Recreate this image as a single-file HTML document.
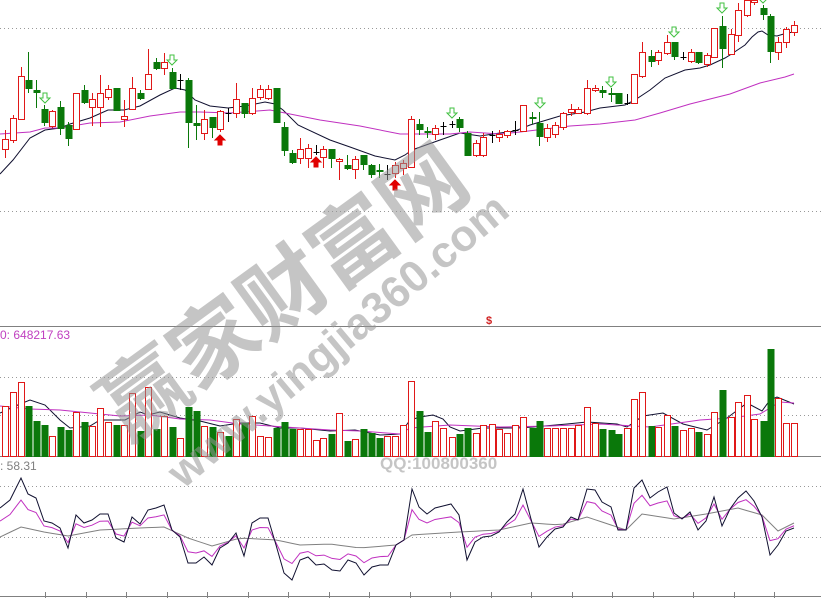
<!DOCTYPE html>
<html><head><meta charset="utf-8"><style>
html,body{margin:0;padding:0;background:#fff;width:821px;height:598px;overflow:hidden}
svg{position:absolute;left:0;top:0}
.wm{position:absolute;font-family:"Liberation Sans","Noto Sans CJK SC",sans-serif;font-weight:bold;color:rgba(150,150,150,0.55);white-space:nowrap;transform-origin:0 0;line-height:1}
</style></head><body>
<svg id="s" width="821" height="598" xmlns="http://www.w3.org/2000/svg">
<g stroke="#999" stroke-dasharray="1,3" stroke-width="1">
<line x1="0" y1="28.5" x2="821" y2="28.5"/><line x1="0" y1="211.5" x2="821" y2="211.5"/>
<line x1="0" y1="377.5" x2="821" y2="377.5"/><line x1="0" y1="415.5" x2="821" y2="415.5"/>
<line x1="0" y1="486.5" x2="821" y2="486.5"/><line x1="0" y1="537.5" x2="821" y2="537.5"/>
</g>
<g stroke="#808080" stroke-width="1">
<line x1="0" y1="326.5" x2="821" y2="326.5"/><line x1="0" y1="456.5" x2="821" y2="456.5"/>
<line x1="0" y1="596.5" x2="821" y2="596.5"/>
</g>
<g id="ticks" stroke="#808080"></g>
<g id="lines" fill="none"></g>
<g id="vol"></g>
<g id="c"></g>
<text x="0" y="339" font-family="Liberation Sans,sans-serif" font-size="12" fill="#c040c0">0: 648217.63</text>
<text x="0" y="470" font-family="Liberation Sans,sans-serif" font-size="12" fill="#808080">: 58.31</text>
<text x="486" y="324" font-family="Liberation Sans,sans-serif" font-size="11" font-weight="bold" fill="#d02020">$</text>
</svg>
<div class="wm" style="left:85px;top:385px;font-size:86px;transform:rotate(-36deg)">赢家财富网</div>
<div class="wm" style="left:160px;top:462px;font-size:44px;transform:rotate(-40deg)">www.yingjia360.com</div>
<div class="wm" style="left:380px;top:455px;font-size:17px;transform:none">QQ:100800360</div>
<script>
var NS="http://www.w3.org/2000/svg";
function el(p,t,a){var e=document.createElementNS(NS,t);for(var k in a)e.setAttribute(k,a[k]);p.appendChild(e);return e;}
var C=[[5,139,149,130,158,'r'],[13,118,140,115,143,'r'],[21,76,119,67,120,'r'],[28,80,88,52,93,'g'],[36,90,92,80,108,'g'],[44,109,122,105,126,'g'],[52,111,126,110,128,'r'],[60,107,128,101,135,'g'],[68,125,138,122,146,'g'],[76,93,129,93,130,'r'],[84,90,102,85,104,'g'],[92,99,107,93,126,'r'],[100,93,107,75,127,'r'],[108,89,97,85,100,'r'],[116,88,110,88,110,'g'],[124,116,119,100,127,'r'],[132,88,109,77,110,'r'],[140,93,98,90,100,'g'],[148,74,89,49,90,'r'],[156,62,68,58,70,'g'],[164,62,68,53,75,'r'],[172,72,88,68,88,'g'],[180,80,80,74,90,'k'],[188,80,122,78,148,'g'],[196,123,125,105,140,'g'],[204,119,133,110,140,'r'],[212,117,127,117,138,'g'],[220,111,129,110,132,'r'],[228,113,113,108,122,'k'],[236,99,113,83,118,'r'],[244,103,113,103,118,'g'],[252,98,113,88,115,'r'],[260,89,97,85,100,'r'],[268,89,98,85,100,'r'],[276,88,122,88,122,'g'],[284,127,150,122,156,'g'],[292,153,162,150,164,'g'],[300,149,158,138,164,'r'],[308,148,158,144,168,'r'],[316,152,152,145,155,'k'],[323,149,157,146,168,'r'],[331,149,158,149,168,'g'],[339,159,161,158,180,'r'],[347,165,168,155,170,'g'],[355,159,169,156,179,'r'],[363,155,164,155,170,'g'],[371,165,174,164,178,'g'],[379,170,171,164,178,'g'],[387,174,174,165,180,'k'],[395,165,173,162,178,'r'],[403,163,168,160,175,'r'],[411,119,167,116,167,'r'],[419,124,129,119,135,'g'],[427,131,132,127,138,'g'],[435,128,134,125,140,'r'],[443,126,126,122,135,'k'],[452,124,124,121,128,'k'],[459,119,127,117,132,'g'],[467,133,155,131,155,'g'],[476,143,155,140,157,'r'],[483,137,155,133,157,'r'],[492,135,135,131,143,'k'],[499,134,137,130,142,'r'],[507,131,135,130,138,'r'],[515,130,130,121,135,'k'],[523,105,131,105,131,'r'],[532,117,118,112,124,'g'],[539,123,136,112,146,'g'],[547,128,137,124,142,'r'],[555,125,134,122,138,'r'],[563,113,127,112,130,'r'],[571,109,112,104,116,'r'],[578,109,113,107,114,'r'],[587,88,113,80,115,'r'],[595,88,90,85,92,'r'],[602,90,92,86,98,'g'],[611,93,94,88,102,'g'],[618,93,103,93,103,'g'],[627,103,103,94,105,'k'],[634,74,103,74,103,'r'],[642,52,76,42,78,'r'],[651,56,61,50,67,'g'],[658,52,60,50,65,'r'],[667,42,53,35,55,'r'],[674,42,56,42,60,'g'],[683,57,57,52,60,'k'],[691,52,61,49,63,'r'],[698,52,62,52,64,'g'],[707,55,64,53,67,'r'],[714,28,57,28,58,'r'],[722,26,48,16,68,'g'],[731,34,54,29,55,'r'],[738,10,35,3,42,'r'],[747,0,15,0,17,'r'],[754,0,2,0,5,'r'],[763,8,14,5,20,'g'],[770,16,51,14,63,'g'],[778,42,52,37,60,'r'],[786,29,42,27,48,'r'],[794,25,32,21,36,'r']];
var V=[406,392,382,406,421,425,436,427,430,412,422,426,408,422,425,425,393,431,387,429,416,427,438,407,411,426,427,432,436,419,423,416,436,437,428,422,429,429,429,440,438,434,413,441,439,429,433,438,436,436,425,381,411,432,421,428,437,434,428,433,425,424,429,433,425,417,428,421,428,428,428,428,425,407,423,429,430,434,428,399,392,426,427,415,426,430,428,432,434,412,390,417,402,395,419,421,349,398,423,423];
var R="#e01818",G="#0a780a";
var c=document.getElementById('c'),vg=document.getElementById('vol'),lg=document.getElementById('lines'),tg=document.getElementById('ticks');
C.forEach(function(d,i){var x=d[0],col=d[5]=='r'?R:(d[5]=='g'?G:'#000');
 el(c,'line',{x1:x+.5,y1:d[3],x2:x+.5,y2:d[4],stroke:col});
 var h=Math.max(d[2]-d[1],1);
 if(d[5]=='r')el(c,'rect',{x:x-2.5,y:d[1]+.5,width:6,height:h,fill:'#fff',stroke:R});
 else if(d[5]=='g')el(c,'rect',{x:x-2.5,y:d[1],width:7,height:h+1,fill:G});
 else el(c,'line',{x1:x-2.5,y1:d[1]+.5,x2:x+3.5,y2:d[1]+.5,stroke:'#000'});
 var v=V[i],vc=d[5]=='g'?'g':(d[5]=='k'?(i==28?'g':'r'):'r');
 if(vc=='r')el(vg,'rect',{x:x-2.5,y:v+.5,width:6,height:456-v,fill:'#fff',stroke:R});
 else el(vg,'rect',{x:x-2.5,y:v,width:7,height:457-v,fill:G});
});
function pl(pts,col,w){el(lg,'polyline',{points:pts.map(function(p){return p.join(',')}).join(' '),stroke:col,'stroke-width':w||1});}
pl([[0,174],[13,160],[30,138],[45,130],[60,128],[70,124],[90,118],[108,110],[124,110],[140,106],[160,95],[175,88],[185,90],[195,100],[210,106],[228,108],[245,106],[265,102],[275,104],[283,110],[298,125],[330,140],[350,147],[375,156],[395,160],[405,155],[412,150],[440,140],[460,133],[480,136],[500,133],[515,131],[530,125],[560,116],[585,112],[600,108],[625,105],[635,100],[650,90],[665,78],[685,70],[700,68],[710,65],[725,58],[730,55],[745,45],[752,37],[758,32],[762,31],[768,35],[777,36],[787,33],[794,32]],'#101030');
pl([[0,134],[30,132],[45,128],[60,128],[90,123],[120,122],[150,116],[180,112],[200,112],[230,113],[270,110],[285,113],[320,120],[360,126],[400,134],[420,134],[450,134],[470,132],[500,134],[520,132],[545,129],[570,126],[600,124],[635,120],[660,113],[690,104],[730,94],[760,83],[785,77],[794,74]],'#c030c0');
pl([[0,413],[20,404],[30,400],[45,405],[60,420],[70,428],[90,426],[100,420],[125,420],[140,412],[148,415],[160,412],[180,418],[200,421],[220,426],[240,423],[260,423],[280,428],[300,428],[330,431],[355,430],[380,435],[400,434],[410,420],[420,417],[433,415],[443,419],[450,427],[460,431],[483,428],[517,428],[533,427],[567,424],[587,422],[617,424],[627,427],[643,416],[663,413],[683,424],[707,430],[727,418],[747,403],[762,411],[770,400],[777,397],[794,404]],'#101030');
pl([[0,406],[30,409],[60,410],[90,413],[120,416],[150,415],[180,419],[210,420],[240,424],[270,426],[300,428],[330,430],[360,431],[400,434],[410,428],[450,425],[500,427],[550,426],[600,424],[650,427],[700,420],[730,418],[760,414],[780,402],[794,403]],'#c030c0');
var B=[[0,508],[10,500],[21,478],[28,494],[36,498],[44,521],[52,523],[60,528],[68,548],[76,515],[84,523],[92,520],[100,514],[108,514],[116,538],[124,542],[132,517],[140,524],[148,510],[156,508],[164,505],[172,530],[180,537],[188,563],[196,563],[204,557],[212,565],[220,548],[228,543],[236,533],[244,556],[252,523],[260,518],[268,518],[276,545],[284,573],[292,580],[300,560],[308,557],[316,565],[324,564],[332,570],[340,571],[348,560],[356,563],[364,575],[372,567],[380,565],[388,565],[396,545],[404,540],[412,489],[419,507],[427,514],[435,508],[443,506],[451,504],[459,515],[467,560],[475,542],[483,537],[491,536],[499,532],[507,522],[515,514],[523,489],[531,519],[539,547],[547,537],[555,529],[563,527],[571,517],[578,520],[587,489],[595,490],[602,502],[611,507],[618,530],[626,530],[634,488],[642,480],[650,498],[658,492],[667,487],[674,513],[682,519],[690,512],[698,530],[706,521],[714,497],[722,526],[730,509],[738,498],[746,491],[754,501],[762,517],[770,555],[778,545],[786,531],[794,528]];
var Gr=[[0,537],[21,527],[44,532],[68,536],[100,530],[140,528],[164,527],[188,538],[212,546],[240,538],[276,540],[300,545],[330,544],[360,548],[396,545],[412,535],[427,534],[459,532],[499,530],[531,523],[560,525],[587,517],[626,530],[642,514],[674,519],[706,514],[738,508],[762,515],[778,531],[794,523]];
function gi(x){for(var i=0;i<Gr.length-1;i++){if(x<=Gr[i+1][0]){var a=Gr[i],b=Gr[i+1];return a[1]+(b[1]-a[1])*(x-a[0])/(b[0]-a[0]);}}return Gr[Gr.length-1][1];}
var Gs=B.map(function(p){return [p[0],gi(p[0])]});
var M=B.map(function(p){var g=gi(p[0]);return [p[0],g+0.55*(p[1]-g)]});
pl(Gs,'#808080');pl(M,'#c030c0');pl(B,'#101030');
for(var x=45;x<800;x+=40.5)el(tg,'line',{x1:Math.round(x)+.5,y1:592,x2:Math.round(x)+.5,y2:598});
function arr(x,y,down,col,fill){var p=down?[[x-2,y],[x+2,y],[x+2,y+5],[x+5,y+5],[x,y+10],[x-5,y+5],[x-2,y+5]]:[[x,y],[x+5,y+5],[x+2,y+5],[x+2,y+10],[x-2,y+10],[x-2,y+5],[x-5,y+5]];
 el(c,'polygon',{points:p.map(function(q){return q.join(',')}).join(' '),fill:fill,stroke:col});}
[[45,93],[172,55],[452,108],[540,98],[611,77],[674,27],[722,3],[763,-7]].forEach(function(a){arr(a[0],a[1],true,'#40c040','#fff')});
[[220,135],[316,157],[395,180]].forEach(function(a){arr(a[0],a[1],false,'#e00000','#e00000')});
</script>
</body></html>
